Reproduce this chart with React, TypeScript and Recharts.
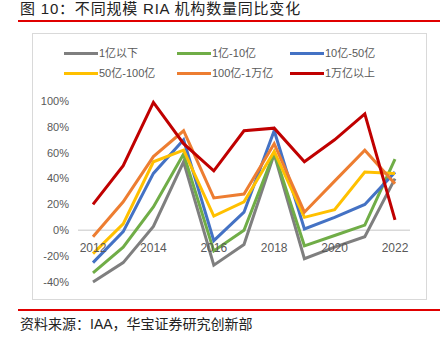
import { LineChart, Line, XAxis, YAxis, ReferenceLine } from "recharts";

const years = ["2012", "2013", "2014", "2015", "2016", "2017", "2018", "2019", "2020", "2021", "2022"];
const below1 = [-40, -25, 3, 53, -27, -11, 59, -22, -13, -5, 40];
const from1to10 = [-33, -13, 18, 59, -16, 0, 60, -12, -4, 4, 55];
const from10to50 = [-25, -1, 44, 70, -8, 14, 77, 1, 10, 20, 45];
const from50to100 = [-18, 5, 53, 62, 11, 22, 61, 10, 16, 45, 44];
const from100to10k = [-5, 22, 57, 77, 25, 28, 67, 14, 38, 62, 36];
const above10k = [20, 50, 99, 67, 46, 77, 79, 53, 70, 90, 8];
const yTicks = [-40, -20, 0, 20, 40, 60, 80, 100];

const seriesNames = ["1亿以下", "1亿-10亿", "10亿-50亿", "50亿-100亿", "100亿-1万亿", "1万亿以上"];
const seriesColors = ["#7f7f7f", "#70ad47", "#4472c4", "#ffc000", "#ed7d31", "#c00000"];
const seriesValues = [below1, from1to10, from10to50, from50to100, from100to10k, above10k];

const data = years.map((year, i) => {
  const row: Record<string, string | number> = { year };
  seriesNames.forEach((name, s) => {
    row[name] = seriesValues[s][i];
  });
  return row;
});

const CHART_W = 395;
const CHART_H = 267;
const X_AXIS_H = 18;
const MARGIN = { top: 68, right: 17, bottom: 0, left: 0 };
const PLOT_H = CHART_H - MARGIN.top - MARGIN.bottom - X_AXIS_H;
const ZERO_Y = MARGIN.top + (PLOT_H * 100) / 140;

const FONT = '"Liberation Sans", "Noto Sans CJK SC", sans-serif';
const TEXT = "#595959";

function YearTick(props: { x?: number; payload?: { value: string } }) {
  const { x, payload } = props;
  return (
    <text x={x} y={ZERO_Y + 22} textAnchor="middle" fill={TEXT} fontSize={12} fontFamily={FONT}>
      {payload?.value}
    </text>
  );
}

export default function App() {
  return (
    <div style={{ position: "absolute", left: 0, top: 0, width: 447, height: 341, background: "#fff", fontFamily: FONT }}>
      <div
        style={{
          position: "absolute",
          left: 20,
          top: 0,
          fontSize: 15,
          lineHeight: "18px",
          letterSpacing: 0.8,
          color: "#222",
          whiteSpace: "nowrap",
        }}
      >
        图 10：不同规模 RIA 机构数量同比变化
      </div>
      <div style={{ position: "absolute", left: 18, top: 20, width: 422, height: 2, background: "#e00000" }} />

      <div
        style={{
          position: "absolute",
          left: 32,
          top: 33,
          width: CHART_W,
          height: CHART_H,
          border: "1px solid #d9d9d9",
          boxSizing: "border-box",
        }}
      />
      <div style={{ position: "absolute", left: 32, top: 33 }}>
        <LineChart width={CHART_W} height={CHART_H} data={data} margin={MARGIN}>
          <XAxis
            dataKey="year"
            height={X_AXIS_H}
            axisLine={false}
            tickLine={false}
            interval={1}
            padding={{ left: 15, right: 15 }}
            tick={(p: { x?: number; payload?: { value: string } }) => <YearTick {...p} />}
          />
          <YAxis
            width={46}
            domain={[-40, 100]}
            ticks={yTicks}
            axisLine={false}
            tickLine={false}
            tickSize={0}
            tickMargin={9}
            tickFormatter={(v: number) => `${v}%`}
            tick={{ fill: TEXT, fontSize: 11, fontFamily: FONT }}
          />
          <ReferenceLine y={0} stroke="#d9d9d9" strokeWidth={1.5} />
          {seriesNames.map((name, s) => (
            <Line
              key={name}
              type="linear"
              dataKey={name}
              stroke={seriesColors[s]}
              strokeWidth={3}
              dot={false}
              isAnimationActive={false}
            />
          ))}
        </LineChart>
      </div>

      <div
        style={{
          position: "absolute",
          left: 64,
          top: 45,
          display: "grid",
          gridTemplateColumns: "113px 113px 113px",
          rowGap: 4,
          fontSize: 11,
          lineHeight: "16px",
          color: TEXT,
        }}
      >
        {seriesNames.map((name, s) => (
          <div key={name} style={{ display: "flex", alignItems: "center", whiteSpace: "nowrap" }}>
            <span style={{ display: "inline-block", width: 34, height: 3, background: seriesColors[s], marginRight: 1 }} />
            {name}
          </div>
        ))}
      </div>

      <div style={{ position: "absolute", left: 18, top: 309, width: 422, height: 2, background: "#e00000" }} />
      <div
        style={{
          position: "absolute",
          left: 20,
          top: 315,
          fontSize: 14,
          lineHeight: "18px",
          color: "#222",
          whiteSpace: "nowrap",
        }}
      >
        资料来源：IAA，华宝证券研究创新部
      </div>
    </div>
  );
}
